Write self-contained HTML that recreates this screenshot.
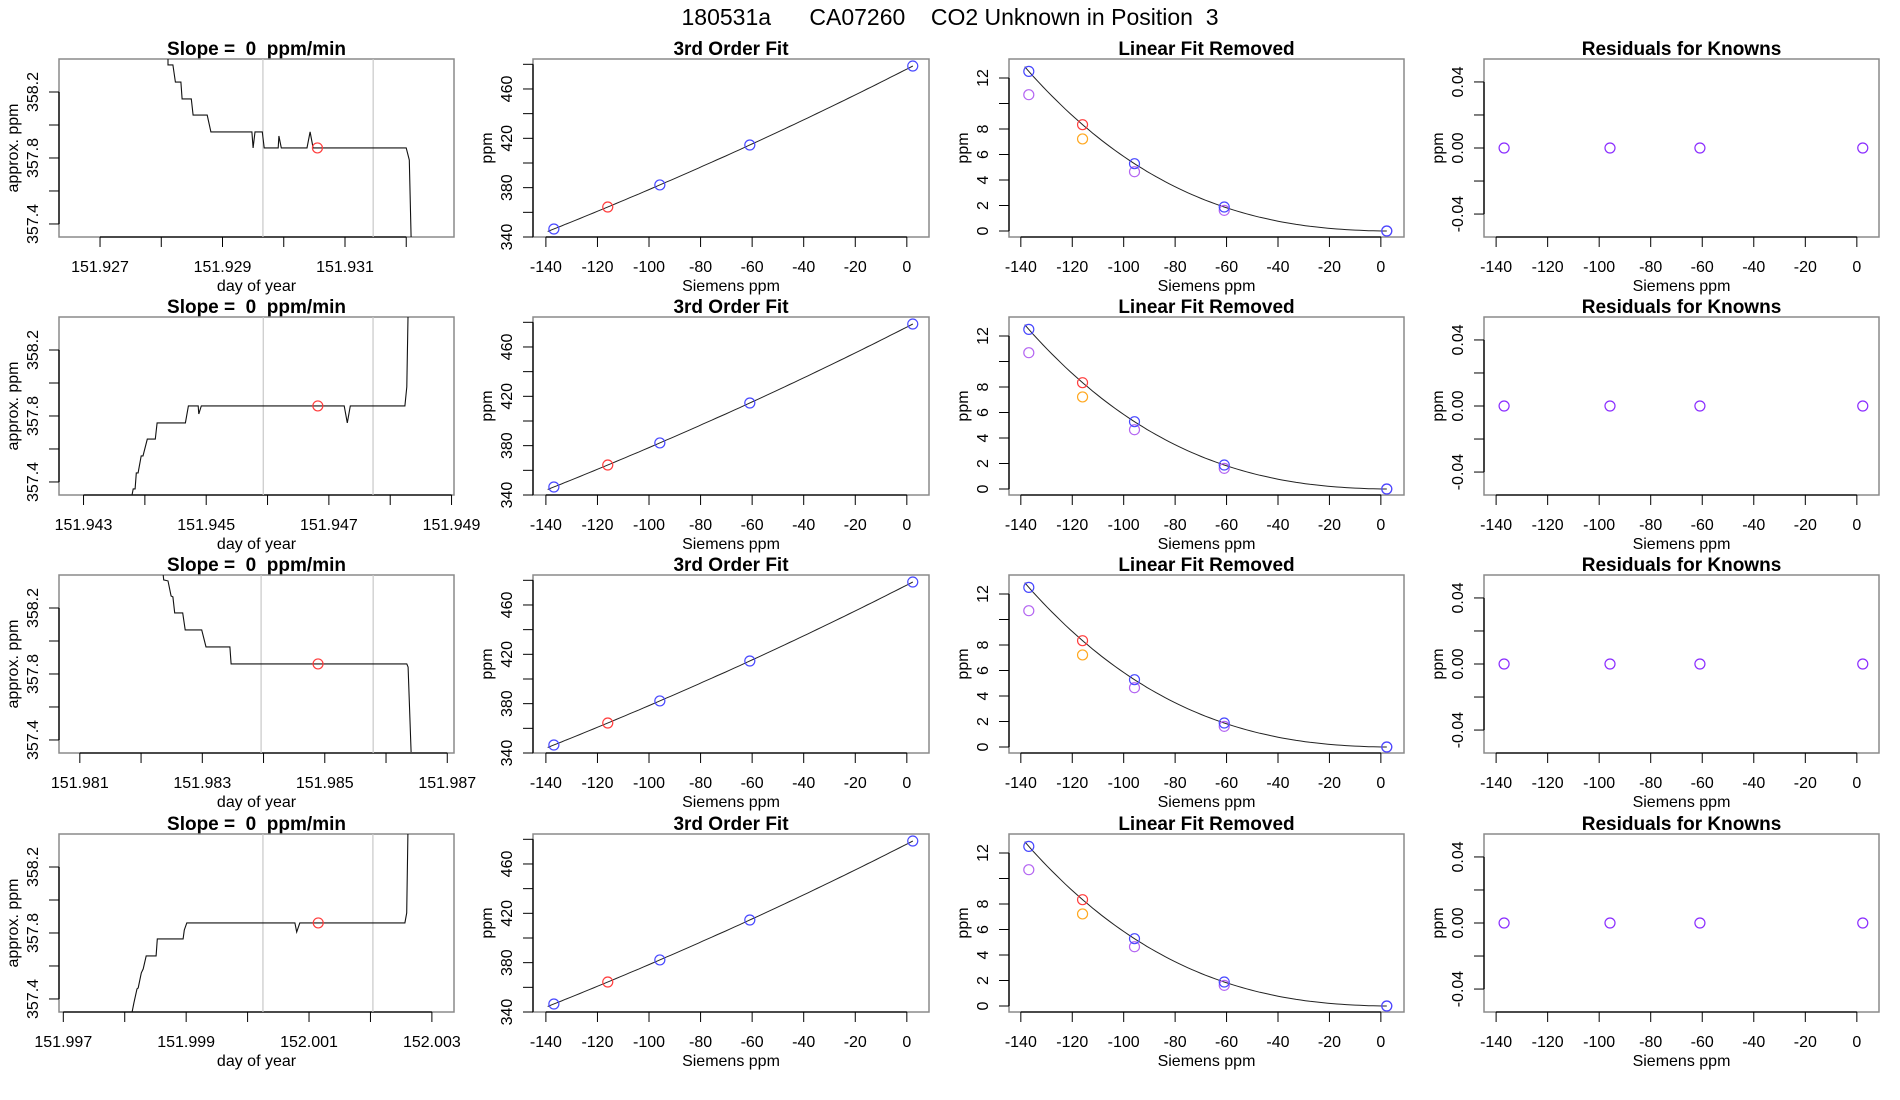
<!DOCTYPE html>
<html><head><meta charset="utf-8"><style>
html,body{margin:0;padding:0;background:#fff;}
svg{display:block;font-family:"Liberation Sans",Arial,sans-serif;}
text{white-space:pre;}
</style></head><body>
<svg id="fig" width="1900" height="1100" viewBox="0 0 1900 1100" xmlns="http://www.w3.org/2000/svg">
<text x="950" y="25" font-size="23" text-anchor="middle" xml:space="preserve">180531a      CA07260    CO2 Unknown in Position  3</text>
</svg>
<script>
// ---- time-series data (column 1), one set per row ----
const row1Times=[151.92811,151.92811,151.92819,151.92823,151.92832,151.92834,151.92849,151.92852,151.92875,151.92881,151.92948,151.92950,151.92953,151.92965,151.92968,151.92991,151.92992,151.92996,151.93038,151.93043,151.93048,151.93200,151.93205,151.93208];
const row1Values=[358.40,358.364,358.364,358.26,358.26,358.158,358.158,358.06,358.06,357.958,357.958,357.861,357.958,357.958,357.861,357.861,357.933,357.861,357.861,357.958,357.861,357.861,357.788,357.32];
const row2Times=[151.94379,151.94381,151.94384,151.94386,151.94389,151.94394,151.94397,151.94404,151.94417,151.94420,151.94466,151.94471,151.94487,151.94488,151.94492,151.94725,151.94730,151.94735,151.94824,151.94827,151.94829];
const row2Values=[357.32,357.358,357.358,357.455,357.455,357.558,357.558,357.66,357.66,357.758,357.758,357.861,357.861,357.812,357.861,357.861,357.758,357.861,357.861,357.976,358.40];
const row3Times=[151.98236,151.98237,151.98244,151.98249,151.98252,151.98255,151.98268,151.98272,151.98299,151.98306,151.98345,151.98347,151.98634,151.98636,151.98641];
const row3Values=[358.406,358.37,358.364,358.273,358.267,358.17,358.17,358.067,358.067,357.964,357.964,357.861,357.861,357.842,357.327];
const row4Times=[151.99812,151.99815,151.99820,151.99822,151.99827,151.99830,151.99835,151.99851,151.99853,151.99895,151.99897,151.99901,152.00077,152.00080,152.00085,152.00256,152.00259,152.00261];
const row4Values=[357.321,357.376,357.461,357.467,357.558,357.582,357.661,357.661,357.764,357.764,357.818,357.861,357.861,357.806,357.861,357.861,357.921,358.40];
const rowVLines=[[151.92966,151.93146],[151.94593,151.94772],[151.98396,151.98579],[152.00025,152.00204]];
const rowMarkerTime=[151.93055,151.94682,151.98489,152.00115];
const rowMarkerValue=[357.861,357.861,357.861,357.861];
const rowXDomain=[[151.92633,151.93278],[151.94260,151.94904],[151.98066,151.98711],[151.99693,152.00336]];
const rowXTicks=[[151.927,151.928,151.929,151.930,151.931,151.932],[151.943,151.944,151.945,151.946,151.947,151.948,151.949],[151.981,151.982,151.983,151.984,151.985,151.986,151.987],[151.997,151.998,151.999,152.000,152.001,152.002,152.003]];
const rowXLabels=[["151.927","","151.929","","151.931",""],["151.943","","151.945","","151.947","","151.949"],["151.981","","151.983","","151.985","","151.987"],["151.997","","151.999","","152.001","","152.003"]];
const c1YTicks=[357.4,357.6,357.8,358.0,358.2];
const c1YLabels=["357.4","","357.8","","358.2"];
// ---- calibration data (columns 2-4) ----
const knownX=[-136.9,-95.8,-60.9,2.3];
const knownPpm=[346.5,382.2,414.6,478.6];
const unknownX=[-116.0];
const unknownPpm=[364.3];
const linRemKnown=[12.52,5.28,1.88,0.0];
const linRemKnownAlt=[10.69,4.65,1.62,0.0];
const linRemUnknown=[8.34];
const linRemUnknownAlt=[7.22];
const residuals=[0,0,0,0];
const sXTicks=[-140,-120,-100,-80,-60,-40,-20,0];
const c2YTicks=[340,360,380,400,420,440,460,480];
const c2YLabels=["340","","380","","420","","460",""];
const c3YTicks=[0,2,4,6,8,10,12];
const c3YLabels=["0","2","4","6","8","","12"];
const c4YTicks=[-0.04,-0.02,0,0.02,0.04];
const c4YLabels=["-0.04","","0.00","","0.04"];

const NS="http://www.w3.org/2000/svg";
const svg=document.getElementById('fig');
const rowTop=[59,317,575,834];const H=178;
const cols=[{l:59,r:454},{l:533,r:929},{l:1009,r:1404},{l:1484,r:1879}];
function mk(tag,attrs,parent){const e=document.createElementNS(NS,tag);for(const k in attrs)e.setAttribute(k,attrs[k]);(parent||svg).appendChild(e);return e;}
function lin(d0,d1,r0,r1){return v=>r0+(v-d0)/(d1-d0)*(r1-r0);}
function cubicInterp(xs,ys){return x=>{let s=0;for(let i=0;i<xs.length;i++){let t=ys[i];for(let j=0;j<xs.length;j++){if(j!==i)t*=(x-xs[j])/(xs[i]-xs[j]);}s+=t;}return s;};}

function panel(g,c,top,xd,yd,xt,xl,yt,yl,title,xlab,ylab){
  const L=c.l,R=c.r,B=top+H;
  const X=lin(xd[0],xd[1],L,R),Y=lin(yd[0],yd[1],B,top);
  const t=mk('text',{x:(L+R)/2,y:top-4,'font-size':19,'font-weight':'bold','text-anchor':'middle','xml:space':'preserve'},g);t.textContent=title;
  
  
  const box=mk('rect',{x:L,y:top,width:R-L,height:H,fill:'none',stroke:'#8a8a8a','stroke-width':1.5},g);
  
  
  const xa=mk('g',{},g);
  
  
  mk('line',{x1:X(xt[0]),x2:X(xt[xt.length-1]),y1:B,y2:B,stroke:'#000','stroke-width':1.3},xa);
  xt.forEach((v,i)=>{const x=X(v);mk('line',{x1:x,x2:x,y1:B,y2:B+10,stroke:'#000','stroke-width':1},xa);
    if(xl[i]){const tx=mk('text',{x:x,y:B+35,'font-size':16,'text-anchor':'middle'},xa);tx.textContent=xl[i];
      
      }});
  const xlt=mk('text',{x:(L+R)/2,y:B+54,'font-size':16,'text-anchor':'middle'},xa);xlt.textContent=xlab;
  
  
  const ya=mk('g',{},g);
  
  
  mk('line',{x1:L,x2:L,y1:Y(yt[0]),y2:Y(yt[yt.length-1]),stroke:'#000','stroke-width':1.3},ya);
  yt.forEach((v,i)=>{const y=Y(v);mk('line',{x1:L-10,x2:L,y1:y,y2:y,stroke:'#000','stroke-width':1},ya);
    if(yl[i]){const tx=mk('text',{x:L-21,y:y,'font-size':16,'text-anchor':'middle',transform:`rotate(-90 ${L-21} ${y})`},ya);tx.textContent=yl[i];
      
      }});
  const ylt=mk('text',{x:L-41,y:top+H/2,'font-size':16,'text-anchor':'middle',transform:`rotate(-90 ${L-41} ${top+H/2})`},ya);ylt.textContent=ylab;
  
  
  return {X,Y,L,R,B,top};
}
function circ(g,x,y,col,name){const c=mk('circle',{cx:x,cy:y,r:5,fill:'none',stroke:col,'stroke-width':1.2},g);
  
  }

const rowsT=[row1Times,row2Times,row3Times,row4Times];
const rowsV=[row1Values,row2Values,row3Values,row4Values];
const blue='#4848ff',red='#ff3c3c',orange='#ffa820',purpleL='#b466f2',purple='#8a2cff';
const fitK=cubicInterp(knownX,knownPpm);
const fitL=cubicInterp(knownX,linRemKnown);

for(let r=0;r<4;r++){
  const top=rowTop[r];
  const g1=mk('g',{});
  
  
  const p=panel(g1,cols[0],top,rowXDomain[r],[357.321,358.4],rowXTicks[r],rowXLabels[r],c1YTicks,c1YLabels,'Slope =  0  ppm/min','day of year','approx. ppm');
  const clipId='clip'+r;
  const cp=mk('clipPath',{id:clipId},g1);mk('rect',{x:p.L,y:p.top,width:p.R-p.L,height:H},cp);
  rowVLines[r].forEach(v=>{const l=mk('line',{x1:p.X(v),x2:p.X(v),y1:p.top,y2:p.B,stroke:'#c8c8c8','stroke-width':1.2},g1);
    
    });
  const pts=rowsT[r].map((t,i)=>p.X(t).toFixed(1)+','+p.Y(rowsV[r][i]).toFixed(1)).join(' ');
  const pl=mk('polyline',{points:pts,fill:'none',stroke:'#111','stroke-width':1.1,'clip-path':`url(#${clipId})`},g1);
  
  
  circ(g1,p.X(rowMarkerTime[r]),p.Y(rowMarkerValue[r]),red,'mean-marker');
  const g2=mk('g',{});
  
  
  const q=panel(g2,cols[1],top,[-145.0,8.6],[340,484.3],sXTicks,sXTicks.map(String),c2YTicks,c2YLabels,'3rd Order Fit','Siemens ppm','ppm');
  let d='';for(let i=0;i<=80;i++){const x=-139.3+i*(knownX[3]+139.3)/80;d+=(i?'L':'M')+q.X(x).toFixed(1)+','+q.Y(fitK(x)).toFixed(1);}
  const f=mk('path',{d:d,fill:'none',stroke:'#222','stroke-width':1},g2);
  
  
  knownX.forEach((x,i)=>circ(g2,q.X(x),q.Y(knownPpm[i]),blue,'known-point'));
  unknownX.forEach((x,i)=>circ(g2,q.X(x),q.Y(unknownPpm[i]),red,'unknown-point'));
  const g3=mk('g',{});
  
  
  const s=panel(g3,cols[2],top,[-144.6,9.0],[-0.47,13.49],sXTicks,sXTicks.map(String),c3YTicks,c3YLabels,'Linear Fit Removed','Siemens ppm','ppm');
  d='';for(let i=0;i<=80;i++){const x=-138.5+i*(knownX[3]+138.5)/80;d+=(i?'L':'M')+s.X(x).toFixed(1)+','+s.Y(fitL(x)).toFixed(1);}
  const f3=mk('path',{d:d,fill:'none',stroke:'#222','stroke-width':1},g3);
  
  
  knownX.forEach((x,i)=>circ(g3,s.X(x),s.Y(linRemKnownAlt[i]),purpleL,'known-raw-point'));
  knownX.forEach((x,i)=>circ(g3,s.X(x),s.Y(linRemKnown[i]),blue,'known-point'));
  unknownX.forEach((x,i)=>circ(g3,s.X(x),s.Y(linRemUnknownAlt[i]),orange,'unknown-raw-point'));
  unknownX.forEach((x,i)=>circ(g3,s.X(x),s.Y(linRemUnknown[i]),red,'unknown-point'));
  const g4=mk('g',{});
  
  
  const u=panel(g4,cols[3],top,[-144.7,8.6],[-0.0539,0.0539],sXTicks,sXTicks.map(String),c4YTicks,c4YLabels,'Residuals for Knowns','Siemens ppm','ppm');
  knownX.forEach((x,i)=>circ(g4,u.X(x),u.Y(residuals[i]),purple,'residual-point'));
}
</script>
</body></html>
